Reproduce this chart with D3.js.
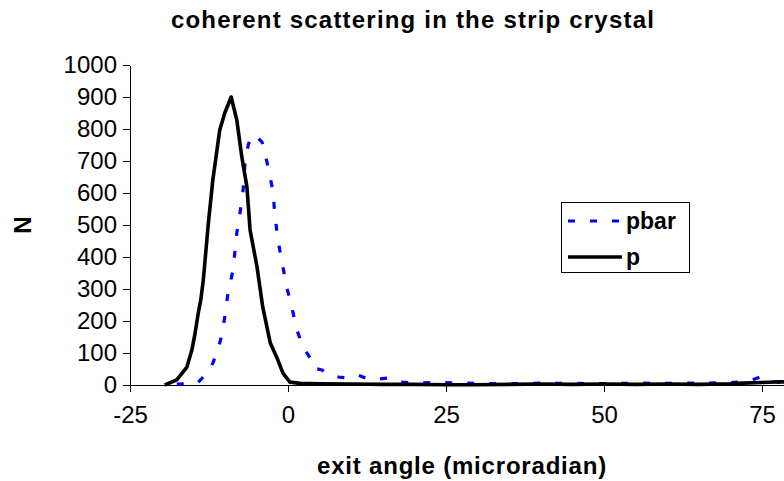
<!DOCTYPE html>
<html>
<head>
<meta charset="utf-8">
<script src="https://cdn.jsdelivr.net/npm/d3@7"></script>
<style>
  body { margin: 0; background: #fff; }
  svg { display: block; font-family: "Liberation Sans", Arial, sans-serif; }
</style>
</head>
<body>
<svg id="chart"></svg>
<script>
// exit angle (microradian) and counts
var pAngle = [-19.5, -17.6, -16, -15.2, -14.7, -14.2, -13.8, -13.4, -12.6, -11.9, -10.8, -10, -9,
  -8.1, -7.3, -6.5, -6, -4.9, -4, -2.8, -1.6, -0.8, 0.3, 1.9, 5, 10, 15, 20, 25, 30, 35, 40,
  45, 50, 55, 60, 65, 70, 72, 75, 78, 80];
var pCount = [0, 16, 56, 110, 162, 225, 266, 328, 506, 640, 797, 850, 900,
  828, 712, 619, 484, 369, 244, 131, 78, 37, 9, 5, 4, 3, 2, 2, 1, 1, 2, 3,
  2, 3, 2, 3, 2, 4, 6, 8, 10, 9];

var pbarAngle = [-17.6, -14.4, -13.6, -12.7, -11.9, -11.1, -10.4, -10, -9.5, -8.7, -8.1, -7.6,
  -7.1, -6.8, -6.3, -5.7, -4.9, -4.1, -3.3, -2.4, -2.1, -1.6, -0.8, -0.2, 0.6, 1.4, 2.4, 3.5,
  4.0, 5.4, 6.6, 8, 9.3, 11.1, 13, 15.8, 17.7, 20, 24, 30, 35, 40, 45, 50, 55, 60, 65, 70,
  73, 74.7, 76, 78, 80];
var pbarCount = [3, 5, 21, 41, 68, 109, 162, 213, 287, 359, 475, 537,
  609, 694, 750, 781, 775, 759, 694, 609, 537, 453, 369, 306, 244, 172, 119, 84,
  53, 47, 31, 25, 22, 31, 16, 22, 9, 6, 8, 5, 4, 6, 5, 4, 6, 5, 6, 7,
  12, 25, 12, 8, 6];

var xTicks = [-25, 0, 25, 50, 75];
var yTicks = [0, 100, 200, 300, 400, 500, 600, 700, 800, 900, 1000];

var width = 784, height = 481;
var svg = d3.select('#chart').attr('width', width).attr('height', height);

svg.append('rect').attr('width', width).attr('height', height).attr('fill', '#fff');

var x = d3.scaleLinear().domain([-25, 100]).range([130, 920]);
var y = d3.scaleLinear().domain([0, 1000]).range([385, 65]);

var plain = function(d){ return String(d); };

// axes
var yAxis = svg.append('g')
  .attr('transform', 'translate(130,0)')
  .call(d3.axisLeft(y).tickValues(yTicks).tickFormat(plain).tickSize(7).tickSizeOuter(0).tickPadding(6));
var xAxis = svg.append('g')
  .attr('transform', 'translate(0,385)')
  .call(d3.axisBottom(x).tickValues(xTicks).tickFormat(plain).tickSize(7).tickSizeOuter(0).tickPadding(14));

[xAxis, yAxis].forEach(function(ax){
  ax.selectAll('path, line').attr('stroke', '#000').attr('stroke-width', 1).attr('shape-rendering', 'crispEdges');
  ax.selectAll('text').attr('fill', '#000').style('font-size', '24px').style('font-family', '"Liberation Sans", Arial, sans-serif');
});

// curves
var line = d3.line()
  .x(function(d){ return x(d[0]); })
  .y(function(d){ return y(d[1]); });

var series = [
  {name: 'pbar', xs: pbarAngle, ys: pbarCount, color: '#0000ff', dash: '7,15', w: 3.2},
  {name: 'p', xs: pAngle, ys: pCount, color: '#000', dash: null, w: 3.6}
];

series.forEach(function(s){
  var pts = s.xs.map(function(v, i){ return [v, s.ys[i]]; });
  svg.append('path')
    .attr('d', line(pts))
    .attr('fill', 'none')
    .attr('stroke', s.color)
    .attr('stroke-width', s.w)
    .attr('stroke-linejoin', 'round')
    .attr('stroke-dasharray', s.dash);
});

// title and axis titles
svg.append('text')
  .attr('x', 413).attr('y', 28)
  .attr('text-anchor', 'middle')
  .style('font-size', '24px').style('font-weight', 'bold')
  .style('letter-spacing', '1.2px')
  .text('coherent scattering in the strip crystal');

svg.append('text')
  .attr('x', 462).attr('y', 474)
  .attr('text-anchor', 'middle')
  .style('font-size', '24px').style('font-weight', 'bold')
  .style('letter-spacing', '0.8px')
  .text('exit angle (microradian)');

svg.append('text')
  .attr('transform', 'translate(31,225) rotate(-90)')
  .attr('text-anchor', 'middle')
  .style('font-size', '24px').style('font-weight', 'bold')
  .text('N');

// legend
var legend = svg.append('g');
legend.append('rect')
  .attr('x', 561.5).attr('y', 202.5).attr('width', 128).attr('height', 70)
  .attr('fill', '#fff').attr('stroke', '#000').attr('stroke-width', 1);

series.forEach(function(s, i){
  var ly = 221 + i * 36;
  legend.append('line')
    .attr('x1', 568).attr('x2', 622).attr('y1', ly).attr('y2', ly)
    .attr('stroke', s.color).attr('stroke-width', s.w)
    .attr('stroke-dasharray', s.dash);
  legend.append('text')
    .attr('x', 626).attr('y', ly + 8)
    .style('font-size', '23px').style('font-weight', 'bold')
    .text(s.name);
});
</script>
</body>
</html>
